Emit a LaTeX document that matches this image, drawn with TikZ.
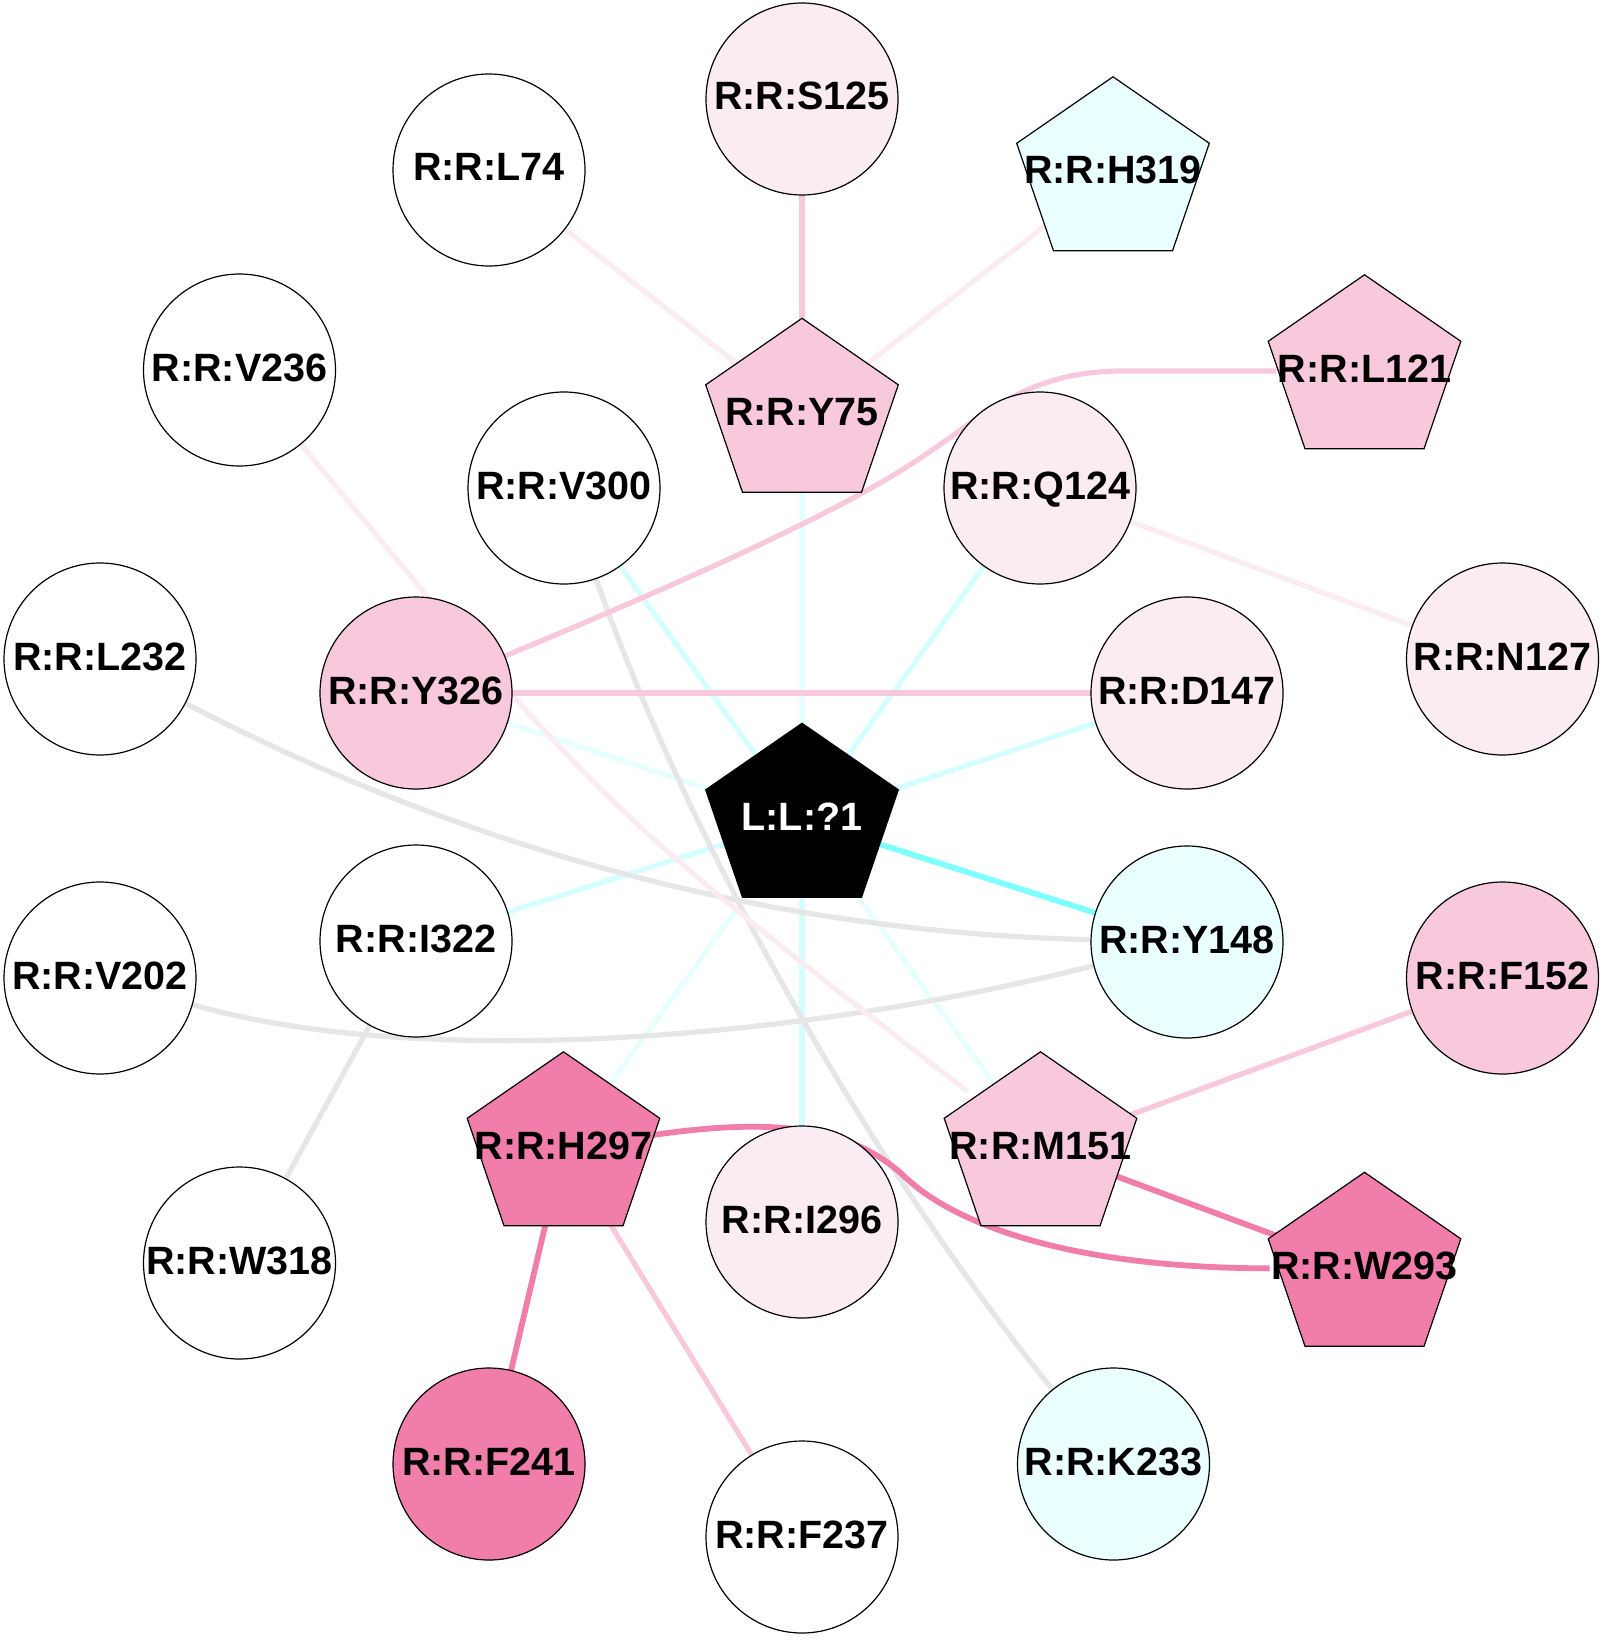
\documentclass[tikz,border=0pt]{standalone}
\usepackage{fontspec}
\setmainfont{Liberation Sans}
\pgfdeclarelayer{bg}
\pgfsetlayers{bg,main}
\definecolor{hotpink}{RGB}{240,125,170}
\definecolor{pinkL}{RGB}{248,200,220}
\definecolor{pinkVL}{RGB}{251,235,243}
\definecolor{cyanFill}{RGB}{234,255,255}
\definecolor{cyanS}{RGB}{128,255,255}
\definecolor{cyanL}{RGB}{213,255,255}
\definecolor{cyanVL}{RGB}{232,255,255}
\definecolor{edgegray}{RGB}{230,230,230}
\newcommand{\labfont}{\fontsize{39.5}{44}\selectfont\bfseries}
\newcommand{\pentnode}[5]{%
  \begin{scope}[shift={(#2,#3)}]
    \draw[pentline,fill=#4] (0,-96.2) -- (96.3,-29.7) -- (59.5,77.8) -- (-59.5,77.8) -- (-96.3,-29.7) -- cycle;
  \end{scope}
  \node[pentlabel] (#1) at (#2,#3) {#5};%
}
\begin{document}
\begin{tikzpicture}[x=1pt,y=-1pt,
  circnode/.style={circle, draw=black, line width=1.2pt, minimum size=192pt, inner sep=0pt,
    font=\labfont, text height=28pt, text depth=6pt},
  pentline/.style={draw=black, line width=1.2pt, line join=miter},
  pentlabel/.style={circle, minimum size=150pt, inner sep=0pt, font=\labfont,
    text height=28pt, text depth=6pt},
  edgeline/.style={line width=5.2pt},
  strongline/.style={line width=5.8pt}]
\useasboundingbox (0,0) rectangle (1604,1640);

% nodes
\node[circnode, fill=pinkVL] (S125) at (802,99) {R:R:S125};
\node[circnode, fill=white] (L74) at (489,170) {R:R:L74};
\pentnode{H319}{1113}{173}{cyanFill}{R:R:H319}
\node[circnode, fill=white] (V236) at (239.5,370) {R:R:V236};
\pentnode{Y75}{802}{414.5}{pinkL}{R:R:Y75}
\pentnode{L121}{1364.5}{371}{pinkL}{R:R:L121}
\node[circnode, fill=white] (V300) at (564,488) {R:R:V300};
\node[circnode, fill=pinkVL] (Q124) at (1040,488) {R:R:Q124};
\node[circnode, fill=white] (L232) at (100,659) {R:R:L232};
\node[circnode, fill=pinkL] (Y326) at (416,693) {R:R:Y326};
\node[circnode, fill=pinkVL] (D147) at (1187,693) {R:R:D147};
\node[circnode, fill=pinkVL] (N127) at (1502.5,659) {R:R:N127};
\pentnode{LIG}{802}{819.5}{black}{\color{white}L:L:?1}
\node[circnode, fill=white] (I322) at (416,941) {R:R:I322};
\node[circnode, fill=cyanFill] (Y148) at (1187,942) {R:R:Y148};
\node[circnode, fill=white] (V202) at (100,978) {R:R:V202};
\node[circnode, fill=pinkL] (F152) at (1502.5,978) {R:R:F152};
\pentnode{H297}{563.5}{1148}{hotpink}{R:R:H297}
\pentnode{M151}{1040.5}{1148}{pinkL}{R:R:M151}
\node[circnode, fill=pinkVL] (I296) at (802,1222) {R:R:I296};
\node[circnode, fill=white] (W318) at (239.5,1263) {R:R:W318};
\pentnode{W293}{1364.5}{1268.5}{hotpink}{R:R:W293}
\node[circnode, fill=hotpink] (F241) at (489,1464) {R:R:F241};
\node[circnode, fill=white] (F237) at (802,1537) {R:R:F237};
\node[circnode, fill=cyanFill] (K233) at (1113.5,1464) {R:R:K233};

\begin{pgfonlayer}{bg}
\fill[white] (0,0) rectangle (1604,1640);
% cyan edges to the ligand
\draw[edgeline, cyanVL] (Y75.center) -- (LIG.center);
\draw[edgeline, cyanL] (V300.center) -- (LIG.center);
\draw[edgeline, cyanL] (Q124.center) -- (LIG.center);
\draw[edgeline, cyanVL] (Y326.center) -- (LIG.center);
\draw[edgeline, cyanL] (D147.center) -- (LIG.center);
\draw[edgeline, cyanL] (I322.center) -- (LIG.center);
\draw[edgeline, cyanL] (I296.center) -- (LIG.center);
\draw[edgeline, cyanVL] (H297.center) -- (LIG.center);
\draw[edgeline, cyanVL] (M151.center) -- (LIG.center);
\draw[strongline, cyanS] (LIG.center) -- (Y148.center);
% gray edges
\draw[edgeline, edgegray] (V300) .. controls (690,845) and (874,1171) .. (K233);
\draw[edgeline, edgegray] (L232) .. controls (472,852) and (773,932) .. (Y148);
\draw[edgeline, edgegray] (V202) .. controls (420,1070) and (800,1040) .. (Y148);
\draw[edgeline, edgegray] (I322.center) -- (W318.center);
% pink edges
\draw[edgeline, pinkVL] (V236) .. controls (604,810) .. (M151);
\draw[edgeline, pinkL] (S125.center) -- (Y75.center);
\draw[edgeline, pinkVL] (L74.center) -- (Y75.center);
\draw[edgeline, pinkVL] (H319.center) -- (Y75.center);
\draw[edgeline, pinkVL] (Q124.center) -- (N127.center);
\draw[edgeline, pinkL] (Y326.center) -- (D147.center);
\draw[edgeline, pinkL] (Y326) .. controls (700,575) and (830,515) .. (905,468)
  .. controls (980,421) and (1020,372) .. (1120,371) -- (L121);
\draw[edgeline, pinkL] (F152.center) -- (M151.center);
\draw[edgeline, pinkL] (H297.center) -- (F237.center);
\draw[strongline, hotpink] (H297.center) -- (F241.center);
\draw[strongline, hotpink] (M151.center) -- (W293.center);
\draw[strongline, hotpink] (H297) .. controls (770,1118) and (850,1125) .. (905,1177)
  .. controls (950,1220) and (1060,1268) .. (W293);
\end{pgfonlayer}
\end{tikzpicture}
\end{document}
